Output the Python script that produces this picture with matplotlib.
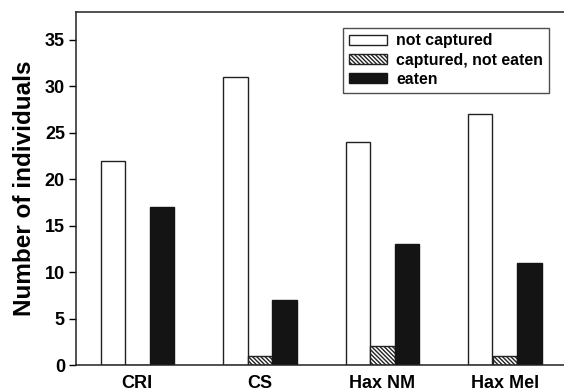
import numpy as np
import matplotlib
matplotlib.use("Agg")
import matplotlib.pyplot as plt

plt.rcParams['font.family'] = ['Liberation Sans', 'DejaVu Sans']
plt.rcParams['font.weight'] = 'bold'
plt.rcParams['hatch.linewidth'] = 1.0

categories = ["CRI", "CS", "Hax NM", "Hax Mel"]
not_captured = [22, 31, 24, 27]
captured_not_eaten = [0, 1, 2, 1]
eaten = [17, 7, 13, 11]
yticks = [0, 5, 10, 15, 20, 25, 30, 35]

fig = plt.figure(figsize=(5.64, 3.91), dpi=100)
ax = fig.add_axes([76/564, 26/391, 490/564, 353/391])

x = np.arange(len(categories))
w = 0.2
ax.bar(x - w, not_captured, w, color='white', edgecolor='#222222', linewidth=1,
       label='not captured')
ax.bar(x, captured_not_eaten, w, color='white', edgecolor='#222222', linewidth=1,
       hatch='\\' * 8, label='captured, not eaten')
ax.bar(x + w, eaten, w, color='#141414', edgecolor='#141414', linewidth=1,
       label='eaten')

ax.set_xlim(-0.5, 3.5)
ax.set_ylim(0, 38)
ax.set_yticks(yticks)
ax.set_xticks(x)
ax.set_xticklabels(categories, fontsize=13, fontweight='bold')
ax.tick_params(axis='x', length=0, pad=7)
ax.tick_params(axis='y', direction='out', length=5, width=1, labelsize=13, pad=3)
for lab in ax.get_yticklabels():
    lab.set_fontweight('bold')
ax.set_ylabel("Number of individuals", fontsize=17.5, fontweight='bold', labelpad=6)

ax.spines['right'].set_visible(False)
for s in ['left', 'top', 'bottom']:
    ax.spines[s].set_linewidth(1.1)
    ax.spines[s].set_color('#222222')

leg = ax.legend(loc='upper right', bbox_to_anchor=(0.965, 0.955), fontsize=11.4,
                frameon=True, fancybox=False, edgecolor='#222222',
                handlelength=2.4, handleheight=0.6, handletextpad=0.6,
                borderpad=0.35, labelspacing=0.27, borderaxespad=0)
leg.get_frame().set_linewidth(1)
for t in leg.get_texts():
    t.set_fontweight('bold')

fig.savefig("out.png", dpi=100)
